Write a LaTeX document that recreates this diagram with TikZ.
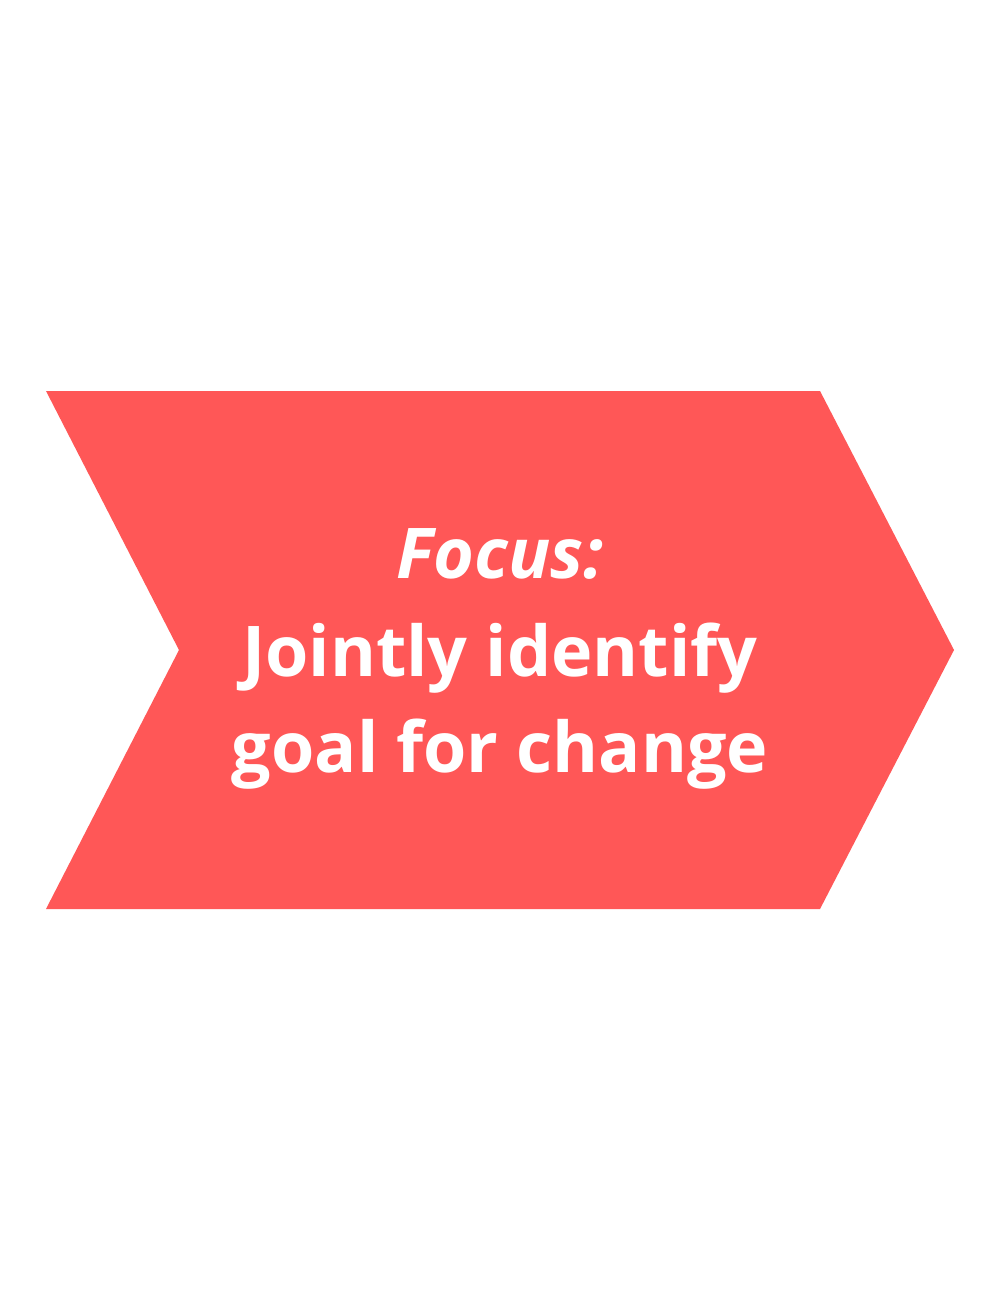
\documentclass[tikz,border=0pt]{standalone}
\usepackage{fontspec}
\setmainfont{Open Sans}
\usetikzlibrary{positioning}

\begin{document}
\begin{tikzpicture}[x=1pt,y=-1pt]
		\definecolor{chevred}{HTML}{FF5757}
		\tikzset{label/.style={text=white,font=\fontsize{70}{97}\selectfont\bfseries,anchor=base,inner sep=0pt}}
		\useasboundingbox[fill=white] (0,0) rectangle (1000,1300);
		\fill[fill=chevred]
		      (46,391)
		   -- (820,391)
		   -- (954,650)
		   -- (820,909)
		   -- (46,909)
		   -- (179,650)
		   -- cycle;
		\node[label] (focus) at (500,578) {\itshape Focus:};
		\node[label] (jointly) at (500,676) {Jointly identify};
		\node[label] (goal) at (500,772) {goal for change};
	\end{tikzpicture}
\end{document}
